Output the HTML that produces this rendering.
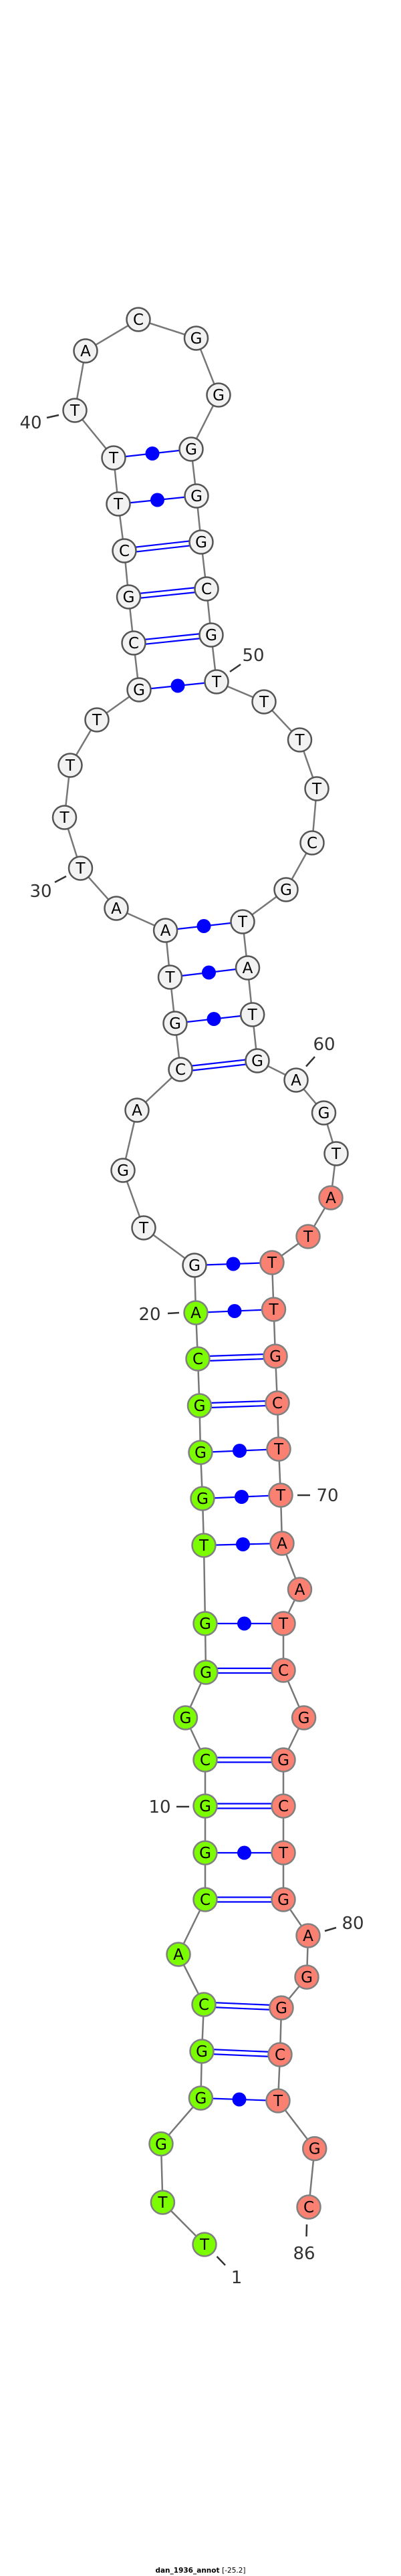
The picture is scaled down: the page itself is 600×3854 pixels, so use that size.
<!DOCTYPE html>
<html><head><meta charset="utf-8"><style>
html,body{margin:0;padding:0;background:#fff;}
svg{display:block;}
.n text{font-family:"DejaVu Sans","Liberation Sans",sans-serif;font-size:23px;text-anchor:middle;fill:#000;}
.lb{font-family:"DejaVu Sans","Liberation Sans",sans-serif;font-size:26px;fill:#333;text-anchor:middle;}
</style></head><body>
<svg width="600" height="3854" viewBox="0 0 600 3854" xmlns="http://www.w3.org/2000/svg">
<polyline fill="none" stroke="#777" stroke-width="2.5" points="306,3358 243.4,3295 241,3207.5 300.4,3139 302,3069 305,2999 267,2924 307,2842 307,2772 307,2702 307,2633 277.5,2570 308,2502 307,2429 305,2312 303,2242 300,2173 298.5,2103 296,2033 293,1964 291,1893 215,1837 184,1751 205,1661 270,1600 262,1531 254.5,1462 247.6,1392 174,1359 120.5,1299 96.5,1223 105,1145 145,1077 208,1032 200,962 192.5,893 186,824 177,754 170,685 112,614 128,525 207,478 293.5,506 327,591 286,672 294,742 301,811 309,881 316,950 324,1020 395,1050 448.5,1107 474,1180 467,1261 428,1331 363,1379 370.5,1448 377.7,1518 385,1587 443,1616 484.5,1665 503,1726 495,1792 461,1850 407,1889 409.5,1959 412,2029 415,2099 417,2168 420,2237 422,2309 448.5,2378 424,2429 424,2499 454.6,2570 424,2633 424,2702 424,2772 424,2842 461,2896 459,2958 421,3004 419,3074 416,3143 470.7,3214.6 462,3302"/>
<g stroke="#0000ff" stroke-width="2.2">
<!-- dot pairs -->
<line x1="291" y1="1893" x2="407" y2="1889"/>
<line x1="293" y1="1964" x2="409.5" y2="1959"/>
<line x1="300" y1="2173" x2="417" y2="2168"/>
<line x1="303" y1="2242" x2="420" y2="2237"/>
<line x1="305" y1="2312" x2="422" y2="2309"/>
<line x1="307" y1="2429" x2="424" y2="2429"/>
<line x1="307" y1="2772" x2="424" y2="2772"/>
<line x1="300.4" y1="3139" x2="416" y2="3143"/>
<line x1="262" y1="1531" x2="377.7" y2="1518"/>
<line x1="254.5" y1="1462" x2="370.5" y2="1448"/>
<line x1="247.6" y1="1392" x2="363" y2="1379"/>
<line x1="208" y1="1032" x2="324" y2="1020"/>
<line x1="177" y1="754" x2="294" y2="742"/>
<line x1="170" y1="685" x2="286" y2="672"/>
<!-- double pairs -->
<line x1="296" y1="2029.5" x2="412" y2="2025.5"/><line x1="296" y1="2036.5" x2="412" y2="2032.5"/>
<line x1="298.5" y1="2099.5" x2="415" y2="2095.5"/><line x1="298.5" y1="2106.5" x2="415" y2="2102.5"/>
<line x1="308" y1="2496" x2="424" y2="2496"/><line x1="308" y1="2503" x2="424" y2="2503"/>
<line x1="307" y1="2629.5" x2="424" y2="2629.5"/><line x1="307" y1="2636.5" x2="424" y2="2636.5"/>
<line x1="307" y1="2698.5" x2="424" y2="2698.5"/><line x1="307" y1="2705.5" x2="424" y2="2705.5"/>
<line x1="307" y1="2838.5" x2="424" y2="2838.5"/><line x1="307" y1="2845.5" x2="424" y2="2845.5"/>
<line x1="305" y1="2995.5" x2="421" y2="3000.5"/><line x1="305" y1="3002.5" x2="421" y2="3007.5"/>
<line x1="302" y1="3065.5" x2="419" y2="3070.5"/><line x1="302" y1="3072.5" x2="419" y2="3077.5"/>
<line x1="270" y1="1596.5" x2="385" y2="1583.5"/><line x1="270" y1="1603.5" x2="385" y2="1590.5"/>
<line x1="200" y1="958.5" x2="316" y2="946.5"/><line x1="200" y1="965.5" x2="316" y2="953.5"/>
<line x1="192.5" y1="889.5" x2="309" y2="877.5"/><line x1="192.5" y1="896.5" x2="309" y2="884.5"/>
<line x1="186" y1="820.5" x2="301" y2="807.5"/><line x1="186" y1="827.5" x2="301" y2="814.5"/>
</g>
<g fill="#0000ff">
<circle cx="349" cy="1891" r="10.5"/><circle cx="351" cy="1961.5" r="10.5"/>
<circle cx="358.5" cy="2170.5" r="10.5"/><circle cx="361.5" cy="2239.5" r="10.5"/>
<circle cx="363.5" cy="2310.5" r="10.5"/><circle cx="365.5" cy="2429" r="10.5"/>
<circle cx="365.5" cy="2772" r="10.5"/><circle cx="358" cy="3141" r="10.5"/>
<circle cx="320" cy="1524.5" r="10.5"/><circle cx="312.5" cy="1455" r="10.5"/>
<circle cx="305" cy="1385.5" r="10.5"/><circle cx="266" cy="1026" r="10.5"/>
<circle cx="235.5" cy="748" r="10.5"/><circle cx="228" cy="678.5" r="10.5"/>
</g>
<!-- ticks -->
<g stroke="#333" stroke-width="2.5">
<line x1="70" y1="625" x2="88" y2="621"/>
<line x1="82" y1="1320" x2="99" y2="1311"/>
<line x1="344" y1="1005" x2="360" y2="994"/>
<line x1="458" y1="1595.5" x2="471" y2="1581"/>
<line x1="251" y1="1965" x2="268" y2="1964"/>
<line x1="445" y1="2237" x2="464" y2="2237"/>
<line x1="264" y1="2703" x2="283" y2="2703"/>
<line x1="486" y1="2889" x2="503" y2="2884"/>
<line x1="459" y1="3328" x2="458.5" y2="3346"/>
<line x1="324.5" y1="3376" x2="337" y2="3389"/>
</g>
<g class="lb">
<text x="46" y="641">40</text>
<text x="61" y="1342">30</text>
<text x="379" y="989">50</text>
<text x="485" y="1571">60</text>
<text x="224" y="1975">20</text>
<text x="490" y="2246">70</text>
<text x="239" y="2712">10</text>
<text x="528" y="2886">80</text>
<text x="455" y="3380">86</text>
<text x="354" y="3416">1</text>
</g>
<!-- nodes -->
<g class="n" stroke-width="2.5">
<g fill="#7cfc00" stroke="#808080">
<circle cx="306" cy="3358" r="17.5"/><circle cx="243.4" cy="3295" r="17.5"/><circle cx="241" cy="3207.5" r="17.5"/><circle cx="300.4" cy="3139" r="17.5"/><circle cx="302" cy="3069" r="17.5"/><circle cx="305" cy="2999" r="17.5"/><circle cx="267" cy="2924" r="17.5"/><circle cx="307" cy="2842" r="17.5"/><circle cx="307" cy="2772" r="17.5"/><circle cx="307" cy="2702" r="17.5"/><circle cx="307" cy="2633" r="17.5"/><circle cx="277.5" cy="2570" r="17.5"/><circle cx="308" cy="2502" r="17.5"/><circle cx="307" cy="2429" r="17.5"/><circle cx="305" cy="2312" r="17.5"/><circle cx="303" cy="2242" r="17.5"/><circle cx="300" cy="2173" r="17.5"/><circle cx="298.5" cy="2103" r="17.5"/><circle cx="296" cy="2033" r="17.5"/><circle cx="293" cy="1964" r="17.5"/>
</g>
<g fill="#f2f2f2" stroke="#555">
<circle cx="291" cy="1893" r="17.5"/><circle cx="215" cy="1837" r="17.5"/><circle cx="184" cy="1751" r="17.5"/><circle cx="205" cy="1661" r="17.5"/><circle cx="270" cy="1600" r="17.5"/><circle cx="262" cy="1531" r="17.5"/><circle cx="254.5" cy="1462" r="17.5"/><circle cx="247.6" cy="1392" r="17.5"/><circle cx="174" cy="1359" r="17.5"/><circle cx="120.5" cy="1299" r="17.5"/><circle cx="96.5" cy="1223" r="17.5"/><circle cx="105" cy="1145" r="17.5"/><circle cx="145" cy="1077" r="17.5"/><circle cx="208" cy="1032" r="17.5"/><circle cx="200" cy="962" r="17.5"/><circle cx="192.5" cy="893" r="17.5"/><circle cx="186" cy="824" r="17.5"/><circle cx="177" cy="754" r="17.5"/><circle cx="170" cy="685" r="17.5"/><circle cx="112" cy="614" r="17.5"/><circle cx="128" cy="525" r="17.5"/><circle cx="207" cy="478" r="17.5"/><circle cx="293.5" cy="506" r="17.5"/><circle cx="327" cy="591" r="17.5"/><circle cx="286" cy="672" r="17.5"/><circle cx="294" cy="742" r="17.5"/><circle cx="301" cy="811" r="17.5"/><circle cx="309" cy="881" r="17.5"/><circle cx="316" cy="950" r="17.5"/><circle cx="324" cy="1020" r="17.5"/><circle cx="395" cy="1050" r="17.5"/><circle cx="448.5" cy="1107" r="17.5"/><circle cx="474" cy="1180" r="17.5"/><circle cx="467" cy="1261" r="17.5"/><circle cx="428" cy="1331" r="17.5"/><circle cx="363" cy="1379" r="17.5"/><circle cx="370.5" cy="1448" r="17.5"/><circle cx="377.7" cy="1518" r="17.5"/><circle cx="385" cy="1587" r="17.5"/><circle cx="443" cy="1616" r="17.5"/><circle cx="484.5" cy="1665" r="17.5"/><circle cx="503" cy="1726" r="17.5"/>
</g>
<g fill="#fa8072" stroke="#808080">
<circle cx="495" cy="1792" r="17.5"/><circle cx="461" cy="1850" r="17.5"/><circle cx="407" cy="1889" r="17.5"/><circle cx="409.5" cy="1959" r="17.5"/><circle cx="412" cy="2029" r="17.5"/><circle cx="415" cy="2099" r="17.5"/><circle cx="417" cy="2168" r="17.5"/><circle cx="420" cy="2237" r="17.5"/><circle cx="422" cy="2309" r="17.5"/><circle cx="448.5" cy="2378" r="17.5"/><circle cx="424" cy="2429" r="17.5"/><circle cx="424" cy="2499" r="17.5"/><circle cx="454.6" cy="2570" r="17.5"/><circle cx="424" cy="2633" r="17.5"/><circle cx="424" cy="2702" r="17.5"/><circle cx="424" cy="2772" r="17.5"/><circle cx="424" cy="2842" r="17.5"/><circle cx="461" cy="2896" r="17.5"/><circle cx="459" cy="2958" r="17.5"/><circle cx="421" cy="3004" r="17.5"/><circle cx="419" cy="3074" r="17.5"/><circle cx="416" cy="3143" r="17.5"/><circle cx="470.7" cy="3214.6" r="17.5"/><circle cx="462" cy="3302" r="17.5"/>
</g>
<g stroke="none">
<text x="306" y="3366">T</text><text x="243.4" y="3303">T</text><text x="241" y="3216">G</text><text x="300.4" y="3147">G</text><text x="302" y="3077">G</text><text x="305" y="3007">C</text><text x="267" y="2932">A</text><text x="307" y="2850">C</text><text x="307" y="2780">G</text><text x="307" y="2710">G</text><text x="307" y="2641">C</text><text x="277.5" y="2578">G</text><text x="308" y="2510">G</text><text x="307" y="2437">G</text><text x="305" y="2320">T</text><text x="303" y="2250">G</text><text x="300" y="2181">G</text><text x="298.5" y="2111">G</text><text x="296" y="2041">C</text><text x="293" y="1972">A</text>
<text x="291" y="1901">G</text><text x="215" y="1845">T</text><text x="184" y="1759">G</text><text x="205" y="1669">A</text><text x="270" y="1608">C</text><text x="262" y="1539">G</text><text x="254.5" y="1470">T</text><text x="247.6" y="1400">A</text><text x="174" y="1367">A</text><text x="120.5" y="1307">T</text><text x="96.5" y="1231">T</text><text x="105" y="1153">T</text><text x="145" y="1085">T</text><text x="208" y="1040">G</text><text x="200" y="970">C</text><text x="192.5" y="901">G</text><text x="186" y="832">C</text><text x="177" y="762">T</text><text x="170" y="693">T</text><text x="112" y="622">T</text><text x="128" y="533">A</text><text x="207" y="486">C</text><text x="293.5" y="514">G</text><text x="327" y="599">G</text><text x="286" y="680">G</text><text x="294" y="750">G</text><text x="301" y="819">G</text><text x="309" y="889">C</text><text x="316" y="958">G</text><text x="324" y="1028">T</text><text x="395" y="1058">T</text><text x="448.5" y="1115">T</text><text x="474" y="1188">T</text><text x="467" y="1269">C</text><text x="428" y="1339">G</text><text x="363" y="1387">T</text><text x="370.5" y="1456">A</text><text x="377.7" y="1526">T</text><text x="385" y="1595">G</text><text x="443" y="1624">A</text><text x="484.5" y="1673">G</text><text x="503" y="1734">T</text>
<text x="495" y="1800">A</text><text x="461" y="1858">T</text><text x="407" y="1897">T</text><text x="409.5" y="1967">T</text><text x="412" y="2037">G</text><text x="415" y="2107">C</text><text x="417" y="2176">T</text><text x="420" y="2245">T</text><text x="422" y="2317">A</text><text x="448.5" y="2386">A</text><text x="424" y="2437">T</text><text x="424" y="2507">C</text><text x="454.6" y="2578">G</text><text x="424" y="2641">G</text><text x="424" y="2710">C</text><text x="424" y="2780">T</text><text x="424" y="2850">G</text><text x="461" y="2904">A</text><text x="459" y="2966">G</text><text x="421" y="3012">G</text><text x="419" y="3082">C</text><text x="416" y="3151">T</text><text x="470.7" y="3222.6">G</text><text x="462" y="3310">C</text>
</g>
</g>
<text x="300" y="3849" font-family="DejaVu Sans, Liberation Sans, sans-serif" font-size="10.5" font-weight="bold" text-anchor="middle" fill="#000">dan_1936_annot <tspan font-weight="normal">[-25.2]</tspan></text>
</svg>
</body></html>
